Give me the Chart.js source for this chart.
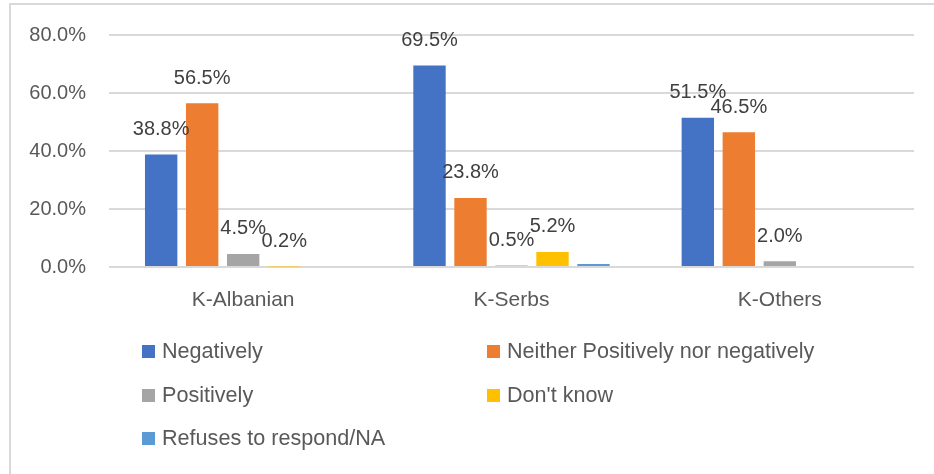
<!DOCTYPE html>
<html><head><meta charset="utf-8">
<script src="https://cdn.jsdelivr.net/npm/chart.js@4"></script>
<style>
html,body{margin:0;padding:0;background:#fff;}
#wrap{position:relative;width:934px;height:474px;overflow:hidden;}
#frame{position:absolute;left:9px;top:3px;width:960px;height:500px;border-left:2px solid #d9d9d9;border-top:2px solid #d9d9d9;}
#c{position:absolute;left:0;top:0;}
#legend{position:absolute;left:0;top:0;width:934px;height:474px;font-family:"Liberation Sans",Arial,sans-serif;font-size:21.6px;color:#595959;}
.item{position:absolute;display:flex;align-items:center;white-space:nowrap;height:24px;}
.sw{width:13px;height:13px;margin-right:7px;flex:none;}
</style></head>
<body>
<div id="wrap">
  <div id="frame"></div>
  <canvas id="c" width="934" height="474"></canvas>
  <div id="legend"></div>
</div>
<script>
const categories = ["K-Albanian", "K-Serbs", "K-Others"];
const seriesNames = ["Negatively", "Neither Positively nor negatively", "Positively", "Don't know", "Refuses to respond/NA"];
const negatively = [38.8, 69.5, 51.5];
const neither = [56.5, 23.8, 46.5];
const positively = [4.5, 0.5, 2.0];
const dontKnow = [0.2, 5.2, 0.0];
const refuses = [0.0, 1.0, 0.0];
const showValueLabels = [true, true, true, true, false];
const yTicks = [0, 20, 40, 60, 80];

const colors = ["#4472C4", "#ED7D31", "#A5A5A5", "#FFC000", "#5B9BD5"];
const seriesData = [negatively, neither, positively, dontKnow, refuses];
const FONT = '"Liberation Sans", Arial, sans-serif';

const valueLabels = {
  id: 'valueLabels',
  afterDatasetsDraw(chart) {
    const ctx = chart.ctx;
    ctx.save();
    ctx.font = '20px ' + FONT;
    ctx.fillStyle = '#404040';
    ctx.textAlign = 'center';
    ctx.textBaseline = 'middle';
    chart.data.datasets.forEach((ds, di) => {
      if (!showValueLabels[di]) return;
      const meta = chart.getDatasetMeta(di);
      meta.data.forEach((bar, i) => {
        const v = ds.data[i];
        if (!v) return;
        ctx.fillText(v.toFixed(1) + '%', bar.x, bar.y - 25);
      });
    });
    ctx.restore();
  }
};

const chart = new Chart(document.getElementById('c'), {
  type: 'bar',
  data: {
    labels: categories,
    datasets: seriesNames.map((n, i) => ({
      label: n,
      data: seriesData[i],
      backgroundColor: colors[i],
      categoryPercentage: 0.764,
      barPercentage: 0.79
    }))
  },
  options: {
    responsive: false,
    animation: false,
    layout: { padding: { top: 33, right: 20, left: 0, bottom: 0 } },
    plugins: { legend: { display: false }, tooltip: { enabled: false } },
    scales: {
      y: {
        min: 0, max: 80,
        afterBuildTicks: s => { s.ticks = yTicks.map(v => ({ value: v })); },
        afterFit: s => { s.width = 109; },
        ticks: {
          callback: v => v.toFixed(1) + '%',
          font: { size: 20, family: FONT },
          color: '#595959',
          padding: 23
        },
        grid: { color: '#d9d9d9', lineWidth: 2, drawTicks: false },
        border: { display: false }
      },
      x: {
        afterFit: s => { s.height = 207; },
        ticks: { font: { size: 21, family: FONT }, color: '#595959', padding: 21 },
        grid: { display: false, drawTicks: false },
        border: { display: false }
      }
    }
  },
  plugins: [valueLabels]
});

// HTML legend built from the datasets
const legendPos = [[142, 351], [487, 351], [142, 395], [487, 395], [142, 438]];
const leg = document.getElementById('legend');
chart.data.datasets.forEach((ds, i) => {
  const it = document.createElement('div');
  it.className = 'item';
  it.style.left = legendPos[i][0] + 'px';
  it.style.top = (legendPos[i][1] - 12) + 'px';
  const sw = document.createElement('span');
  sw.className = 'sw';
  sw.style.background = ds.backgroundColor;
  const tx = document.createElement('span');
  tx.textContent = ds.label;
  it.appendChild(sw); it.appendChild(tx);
  leg.appendChild(it);
});
</script>
</body></html>
